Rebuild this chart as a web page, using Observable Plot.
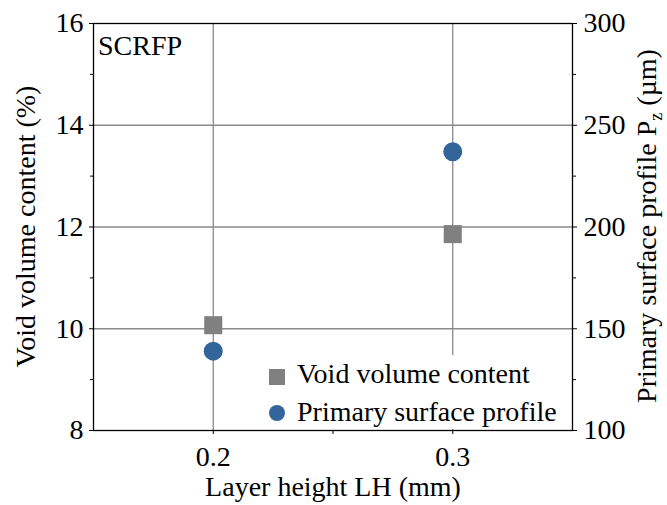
<!DOCTYPE html>
<html><head><meta charset="utf-8">
<script src="https://cdn.jsdelivr.net/npm/d3@7"></script>
<script src="https://cdn.jsdelivr.net/npm/@observablehq/plot@0.6"></script>
<style>
body{margin:0;background:#fff;}
#wrap{position:relative;width:667px;height:505px;font-family:'Liberation Serif','DejaVu Serif',serif;color:#000;}
#wrap svg, #wrap svg text{font-family:'Liberation Serif','DejaVu Serif',serif;}
#legend{position:absolute;left:258px;top:355px;width:305px;height:74px;background:#fff;}
.lg-item{position:absolute;left:39px;font-size:28px;line-height:28px;white-space:nowrap;font-family:'Liberation Serif','DejaVu Serif',serif;}
.sw{position:absolute;width:16px;height:16px;left:11px;}
</style></head><body><div id="wrap"></div>
<script>
// ---- data ----
const layerHeights = [0.2, 0.3];            // mm
const voidContent = [10.07, 11.86];         // %
const surfaceProfile = [139, 237];          // µm
const xTicks = [0.2, 0.3];
const xMinorTicks = [0.25];
const yLeftTicks = [8, 10, 12, 14, 16];
const yLeftMinor = [9, 11, 13, 15];
const yRightTickLabels = [100, 150, 200, 250, 300];
const seriesNames = ["Void volume content", "Primary surface profile"];
const colors = ["#808080", "#33649a"];

const rightToLeft = d3.scaleLinear().domain([100, 300]).range([8, 16]);
const voidData = layerHeights.map((x, i) => ({x, y: voidContent[i]}));
const profData = layerHeights.map((x, i) => ({x, y: rightToLeft(surfaceProfile[i])}));

const fontFamily = "'Liberation Serif','DejaVu Serif',serif";
const chart = Plot.plot({
  width: 667, height: 505,
  marginLeft: 93, marginRight: 95, marginTop: 23, marginBottom: 75,
  style: {fontSize: "28px", background: "#fff", color: "#000"},
  x: {domain: [0.15, 0.35]},
  y: {domain: [8, 16]},
  marks: [
    Plot.gridX(xTicks, {stroke: "#8a8a8a", strokeOpacity: 1, strokeWidth: 1.3}),
    Plot.gridY([10, 12, 14], {stroke: "#8a8a8a", strokeOpacity: 1, strokeWidth: 1.3}),
    Plot.axisX(xTicks, {tickFormat: d => d.toFixed(1), tickSize: 4, tickPadding: 12, label: null}),
    Plot.axisX(xMinorTicks, {text: null, tickSize: 4, label: null}),
    Plot.axisY(yLeftTicks, {anchor: "left", tickSize: 4, tickPadding: 6, label: null, tickFormat: d => String(d)}),
    Plot.axisY(yLeftMinor, {anchor: "left", text: null, tickSize: 3, label: null}),
    Plot.axisY(yLeftTicks, {anchor: "right", tickSize: 4, tickPadding: 7, label: null,
      tickFormat: d => String(yRightTickLabels[yLeftTicks.indexOf(d)])}),
    Plot.axisY(yLeftMinor, {anchor: "right", text: null, tickSize: 3, label: null}),
    Plot.frame({stroke: "#000", strokeWidth: 1.3}),
    Plot.dot(voidData, {x: "x", y: "y", symbol: "square", r: 10.2, fill: colors[0], stroke: "none"}),
    Plot.dot(profData, {x: "x", y: "y", symbol: "circle", r: 9.5, fill: colors[1], stroke: "none"})
  ]
});
chart.setAttribute("font-family", fontFamily);
const wrap = document.getElementById("wrap");
wrap.appendChild(chart);

// titles
const svg = d3.select(chart);
const t = svg.append("g").attr("font-size", 28).attr("fill", "#000");
t.append("text").attr("x", 333).attr("y", 496).attr("text-anchor", "middle").text("Layer height LH (mm)");
t.append("text").attr("transform", "translate(35,226.5) rotate(-90)").attr("text-anchor", "middle").text("Void volume content (%)");
const rt = t.append("text").attr("transform", "translate(656,226) rotate(-90)").attr("text-anchor", "middle");
rt.append("tspan").text("Primary surface profile P");
rt.append("tspan").attr("font-size", 18).attr("dy", 6).text("z");
rt.append("tspan").attr("dy", -6).text(" (\u00b5m)");
t.append("text").attr("x", 98).attr("y", 55).attr("text-anchor", "start").text("SCRFP");

// legend
const lg = document.createElement("div");
lg.id = "legend";
seriesNames.forEach((name, i) => {
  const sw = document.createElement("div");
  sw.className = "sw";
  sw.style.top = (i === 0 ? 14 : 50) + "px";
  sw.style.background = colors[i];
  if (i === 1) sw.style.borderRadius = "50%";
  lg.appendChild(sw);
  const tx = document.createElement("div");
  tx.className = "lg-item";
  tx.style.top = (i === 0 ? 5 : 43) + "px";
  tx.textContent = name;
  lg.appendChild(tx);
});
wrap.appendChild(lg);
</script>
</body></html>
